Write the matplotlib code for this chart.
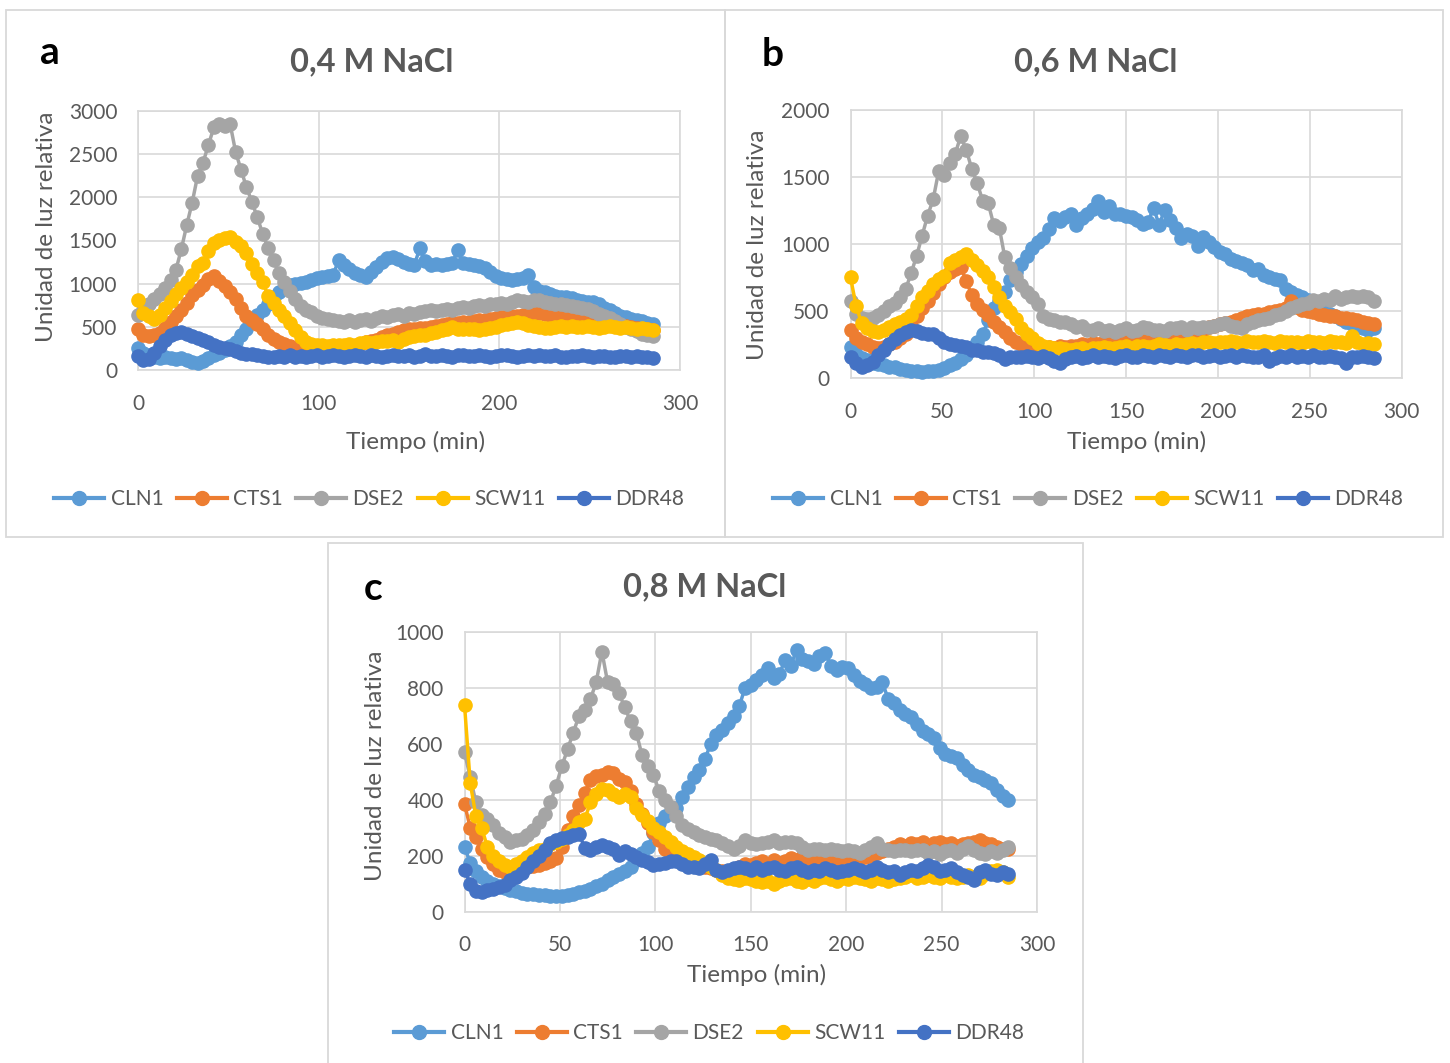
import matplotlib
matplotlib.use("Agg")
import matplotlib.pyplot as plt
from matplotlib.patches import Rectangle
from matplotlib.lines import Line2D

plt.rcParams['font.family'] = ['Lato', 'DejaVu Sans']

W, H = 1450, 1063
TEXT = '#595959'
GRID = '#D9D9D9'

minutes = list(range(0, 286, 3))
genes = ['CLN1', 'CTS1', 'DSE2', 'SCW11', 'DDR48']
colors = ['#5B9BD5', '#ED7D31', '#A5A5A5', '#FFC000', '#4472C4']

# 0,4 M NaCl
a_cln1 = [250, 200, 170, 150, 140, 150, 140, 130, 140, 120, 90, 80,
          110, 140, 170, 200, 230, 280, 330, 400, 470, 560, 640, 700,
          760, 840, 900, 950, 980, 1000, 1010, 1020, 1040, 1060, 1080, 1090,
          1100, 1270, 1220, 1170, 1120, 1100, 1080, 1140, 1190, 1250, 1300, 1310,
          1280, 1250, 1230, 1220, 1410, 1260, 1220, 1230, 1220, 1230, 1240, 1390,
          1240, 1230, 1220, 1200, 1180, 1140, 1090, 1070, 1050, 1040, 1050, 1070,
          1100, 960, 920, 900, 880, 860, 850, 840, 830, 810, 800, 790,
          790, 760, 720, 690, 660, 630, 610, 590, 580, 570, 550, 530]
a_cts1 = [470, 410, 390, 400, 430, 490, 560, 630, 700, 780, 870, 930,
          990, 1050, 1090, 1030, 970, 900, 820, 720, 630, 580, 530, 470,
          400, 360, 330, 300, 280, 260, 250, 240, 235, 240, 230, 240,
          250, 245, 260, 270, 280, 300, 320, 340, 350, 380, 400, 420,
          440, 460, 470, 480, 490, 490, 500, 510, 520, 530, 540, 550,
          560, 560, 570, 580, 580, 590, 600, 610, 620, 620, 630, 640,
          650, 660, 660, 650, 640, 630, 620, 620, 610, 600, 590, 580,
          570, 560, 550, 540, 530, 520, 510, 500, 490, 480, 470, 460]
a_dse2 = [640, 700, 760, 820, 880, 950, 1040, 1160, 1400, 1680, 1940, 2250,
          2400, 2610, 2810, 2850, 2830, 2850, 2530, 2320, 2120, 1950, 1770, 1580,
          1410, 1270, 1120, 1020, 910, 820, 740, 690, 670, 620, 600, 590,
          580, 570, 560, 575, 560, 580, 590, 570, 600, 620, 610, 640,
          650, 630, 660, 650, 670, 680, 690, 680, 700, 710, 700, 720,
          730, 720, 740, 750, 740, 760, 770, 780, 770, 790, 810, 800,
          790, 810, 810, 790, 780, 770, 760, 750, 740, 730, 720, 710,
          680, 650, 620, 600, 570, 530, 500, 470, 450, 420, 400, 390]
a_scw11 = [810, 660, 620, 590, 640, 720, 800, 880, 950, 1020, 1100, 1210,
           1240, 1380, 1470, 1510, 1530, 1540, 1480, 1440, 1350, 1230, 1120, 1020,
           860, 780, 690, 620, 540, 460, 380, 330, 300, 290, 285, 280,
           290, 285, 295, 300, 290, 310, 320, 315, 330, 340, 335, 350,
           330, 360, 380, 390, 400, 410, 430, 440, 460, 470, 500, 480,
           470, 480, 470, 460, 470, 490, 500, 520, 530, 550, 560, 540,
           520, 510, 500, 490, 490, 500, 510, 500, 510, 500, 500, 510,
           500, 490, 500, 510, 500, 490, 500, 490, 480, 490, 470, 460]
a_ddr48 = [160, 120, 130, 200, 280, 350, 400, 430, 440, 420, 390, 370,
           350, 330, 290, 270, 250, 240, 220, 200, 190, 180, 170, 160,
           155, 150, 160, 150, 170, 155, 160, 150, 165, 170, 150, 160,
           175, 160, 150, 165, 170, 160, 155, 170, 165, 150, 160, 175,
           165, 160, 170, 155, 160, 180, 165, 160, 170, 165, 155, 170,
           175, 160, 165, 170, 160, 150, 165, 175, 170, 160, 155, 165,
           170, 160, 175, 165, 160, 170, 155, 150, 165, 160, 170, 165,
           155, 160, 165, 150, 155, 160, 165, 150, 160, 155, 145, 140]

# 0,6 M NaCl
b_cln1 = [230, 180, 150, 135, 115, 105, 95, 85, 80, 70, 60, 55,
          50, 48, 50, 55, 60, 75, 95, 115, 140, 170, 220, 270,
          330, 430, 520, 570, 640, 730, 790, 850, 910, 970, 1010, 1040,
          1110, 1190, 1170, 1200, 1220, 1140, 1190, 1220, 1260, 1320, 1240, 1280,
          1220, 1225, 1210, 1200, 1180, 1150, 1160, 1270, 1140, 1250, 1180, 1120,
          1040, 1070, 1060, 980, 1050, 1010, 975, 940, 920, 890, 870, 860,
          840, 805, 815, 770, 750, 740, 730, 660, 640, 620, 600, 580,
          570, 560, 510, 480, 460, 440, 420, 400, 380, 370, 360, 370]
b_cts1 = [360, 300, 270, 250, 230, 220, 230, 250, 270, 300, 330, 390,
          460, 520, 570, 630, 700, 750, 790, 810, 830, 720, 620, 550,
          510, 470, 420, 380, 340, 300, 270, 255, 245, 235, 225, 220,
          230, 225, 235, 230, 240, 235, 250, 245, 260, 255, 270, 260,
          265, 270, 275, 270, 280, 285, 280, 290, 295, 290, 300, 295,
          310, 320, 330, 340, 360, 380, 390, 400, 410, 420, 430, 450,
          460, 470, 480, 480, 490, 500, 505, 520, 570, 530, 510, 500,
          490, 480, 470, 465, 460, 450, 445, 440, 430, 420, 410, 400]
b_dse2 = [570, 480, 450, 440, 450, 470, 500, 540, 560, 600, 660, 780,
          910, 1060, 1210, 1330, 1540, 1510, 1600, 1670, 1800, 1700, 1560, 1450,
          1320, 1300, 1140, 1120, 900, 820, 750, 690, 640, 600, 550, 460,
          440, 430, 420, 420, 400, 380, 390, 360, 360, 370, 350, 360,
          340, 360, 370, 350, 360, 380, 370, 360, 360, 350, 370, 370,
          380, 360, 380, 370, 380, 380, 390, 400, 410, 390, 380, 370,
          400, 420, 430, 440, 450, 470, 480, 500, 520, 540, 550, 560,
          580, 570, 590, 580, 610, 590, 600, 610, 600, 610, 600, 570]
b_scw11 = [750, 540, 410, 370, 350, 340, 360, 380, 400, 420, 440, 470,
           540, 600, 650, 700, 740, 760, 860, 880, 900, 920, 880, 840,
           800, 750, 680, 600, 540, 490, 440, 370, 330, 300, 260, 240,
           230, 225, 220, 215, 210, 215, 220, 210, 225, 220, 230, 225,
           220, 230, 235, 225, 240, 235, 230, 240, 250, 245, 240, 250,
           245, 255, 260, 250, 265, 270, 260, 270, 265, 275, 270, 260,
           275, 270, 265, 275, 270, 260, 275, 270, 265, 270, 260, 275,
           265, 270, 260, 275, 265, 270, 260, 310, 265, 255, 260, 250]
b_ddr48 = [160, 110, 85, 95, 120, 170, 210, 255, 290, 320, 345, 355,
           350, 335, 330, 325, 300, 270, 250, 245, 235, 230, 210, 205,
           195, 190, 185, 175, 145, 160, 155, 160, 165, 160, 150, 165,
           150, 130, 110, 140, 155, 165, 150, 160, 170, 155, 165, 160,
           150, 165, 170, 160, 155, 170, 165, 160, 175, 165, 155, 170,
           165, 160, 175, 170, 160, 165, 170, 155, 165, 175, 160, 170,
           165, 155, 160, 170, 125, 150, 165, 160, 170, 155, 165, 160,
           170, 160, 155, 165, 160, 150, 110, 160, 155, 165, 160, 150]

# 0,8 M NaCl
c_cln1 = [230, 175, 145, 125, 110, 100, 92, 84, 78, 72, 66, 64,
          62, 60, 58, 56, 54, 56, 59, 64, 68, 73, 82, 90,
          100, 112, 122, 133, 145, 160, 185, 210, 232, 280, 315, 340,
          355, 372, 410, 445, 480, 505, 545, 600, 630, 650, 675, 700,
          735, 800, 810, 830, 845, 870, 835, 850, 900, 880, 935, 905,
          895, 885, 915, 925, 880, 865, 875, 870, 845, 825, 815, 800,
          805, 820, 760, 745, 720, 705, 695, 670, 645, 635, 620, 585,
          565, 555, 550, 525, 505, 490, 480, 470, 460, 435, 415, 400]
c_cts1 = [385, 300, 265, 225, 195, 170, 148, 140, 137, 145, 150, 160,
          162, 166, 172, 180, 190, 230, 290, 340, 380, 425, 470, 485,
          490, 500, 495, 475, 465, 430, 385, 350, 315, 285, 255, 225,
          215, 205, 190, 180, 172, 168, 160, 155, 150, 145, 140, 150,
          160, 170, 165, 175, 180, 170, 185, 175, 180, 190, 185, 195,
          190, 185, 195, 180, 190, 185, 195, 190, 185, 190, 195, 200,
          210, 215, 225, 230, 240, 235, 245, 240, 250, 235, 245, 250,
          240, 245, 235, 240, 245, 250, 255, 245, 240, 230, 225, 225]
c_dse2 = [570, 480, 390, 345, 330, 310, 280, 265, 250, 255, 260, 275,
          290, 320, 350, 390, 450, 520, 580, 640, 700, 720, 760, 820,
          930, 820, 815, 780, 730, 680, 640, 560, 520, 490, 430, 400,
          375, 340, 310, 295, 285, 275, 265, 260, 255, 245, 235, 225,
          235, 255, 245, 240, 245, 250, 255, 245, 250, 250, 245, 230,
          220, 225, 225, 220, 225, 220, 215, 220, 215, 210, 220, 230,
          245, 225, 220, 215, 220, 220, 215, 220, 220, 210, 215, 205,
          215, 220, 210, 225, 235, 220, 210, 205, 215, 210, 220, 230]
c_scw11 = [740, 460, 340, 300, 230, 200, 180, 165, 160, 170, 180, 195,
           210, 220, 225, 240, 250, 260, 275, 290, 320, 330, 390, 420,
           440, 435, 420, 410, 420, 410, 370, 345, 325, 300, 285, 265,
           250, 230, 215, 205, 195, 185, 170, 160, 150, 130, 120, 115,
           112, 120, 115, 110, 105, 110, 100, 110, 115, 120, 110, 105,
           115, 110, 120, 125, 115, 110, 120, 115, 125, 120, 115, 110,
           120, 115, 110, 115, 120, 125, 130, 120, 125, 130, 125, 120,
           130, 125, 120, 125, 130, 125, 120, 135, 145, 150, 140, 125]
c_ddr48 = [148, 100, 72, 70, 78, 82, 88, 95, 112, 125, 137, 158,
           180, 200, 220, 245, 255, 262, 268, 275, 278, 228, 220, 230,
           238, 232, 222, 202, 218, 205, 195, 185, 178, 168, 170, 173,
           180, 182, 170, 160, 158, 155, 170, 185, 150, 142, 150, 155,
           160, 155, 150, 160, 148, 155, 160, 150, 145, 155, 160, 150,
           140, 150, 145, 155, 150, 140, 145, 150, 155, 148, 140, 150,
           160, 150, 140, 145, 130, 140, 150, 145, 155, 165, 160, 145,
           150, 155, 140, 130, 125, 113, 140, 150, 135, 130, 140, 135]


def fx(x):
    return x / W


def fy(y):
    return 1 - y / H


def draw_panel(fig, box, plot, series, ymax, ystep, xstep, letter, title,
               letter_pos, title_pos, ylabel_pos, xlabel_pos, legend_pos):
    # outer chart frame
    x0, y0, x1, y1 = box
    fig.add_artist(Rectangle((fx(x0), fy(y1)), (x1 - x0) / W, (y1 - y0) / H,
                             transform=fig.transFigure, fill=False,
                             edgecolor=GRID, linewidth=1.3))
    l, t, r, b = plot
    ax = fig.add_axes([fx(l), fy(b), (r - l) / W, (b - t) / H])
    for values, color, name in zip(series, colors, genes):
        ax.plot(minutes, values, color=color, lw=2.5, marker='o', ms=9.5,
                label=name, clip_on=False, zorder=3)
    ax.set_xlim(0, 300)
    ax.set_ylim(0, ymax)
    ax.set_xticks(range(0, 301, xstep))
    ax.set_yticks(range(0, ymax + 1, ystep))
    ax.grid(True, color=GRID, lw=1.2)
    ax.set_axisbelow(True)
    for s in ax.spines.values():
        s.set_color(GRID)
        s.set_linewidth(1.2)
    ax.tick_params(axis='both', length=0, labelsize=15, colors=TEXT)
    ax.tick_params(axis='x', pad=17)
    ax.tick_params(axis='y', pad=15)

    fig.text(fx(letter_pos[0]), fy(letter_pos[1]), letter, fontsize=28,
             fontweight='bold', color='black', ha='center', va='center')
    fig.text(fx(title_pos[0]), fy(title_pos[1]), title, fontsize=23.5,
             fontweight='bold', color=TEXT, ha='center', va='center')
    fig.text(fx(ylabel_pos[0]), fy(ylabel_pos[1]), 'Unidad de luz relativa',
             fontsize=17.5, color=TEXT, rotation=90, ha='center', va='center')
    fig.text(fx(xlabel_pos[0]), fy(xlabel_pos[1]), 'Tiempo (min)',
             fontsize=17.5, color=TEXT, ha='center', va='center')

    handles = [Line2D([], [], color=c, lw=3, marker='o', ms=10) for c in colors]
    fig.legend(handles, genes, loc='center',
               bbox_to_anchor=(fx(legend_pos[0]), fy(legend_pos[1])),
               ncol=5, frameon=False, fontsize=15, labelcolor=TEXT,
               handlelength=2.4, handletextpad=0.3, columnspacing=0.65,
               borderpad=0, borderaxespad=0)
    return ax


fig = plt.figure(figsize=(W / 100, H / 100), dpi=100)

draw_panel(fig, (6, 10, 725, 537), (138, 111, 680, 370),
           [a_cln1, a_cts1, a_dse2, a_scw11, a_ddr48], 3000, 500, 100,
           'a', '0,4 M NaCl', (50, 52), (372, 62), (47, 227), (416, 442),
           (369, 499))
draw_panel(fig, (725, 10, 1443, 537), (850.5, 109.5, 1401.5, 378),
           [b_cln1, b_cts1, b_dse2, b_scw11, b_ddr48], 2000, 500, 50,
           'b', '0,6 M NaCl', (773, 54), (1096, 62), (757, 245), (1137, 442),
           (1088, 499))
draw_panel(fig, (328, 543, 1083, 1070), (464.5, 632, 1037, 911.5),
           [c_cln1, c_cts1, c_dse2, c_scw11, c_ddr48], 1000, 200, 50,
           'c', '0,8 M NaCl', (373, 588), (705, 587), (376, 766), (757, 975),
           (709, 1033))

fig.savefig('out.png', dpi=100, facecolor='white')
